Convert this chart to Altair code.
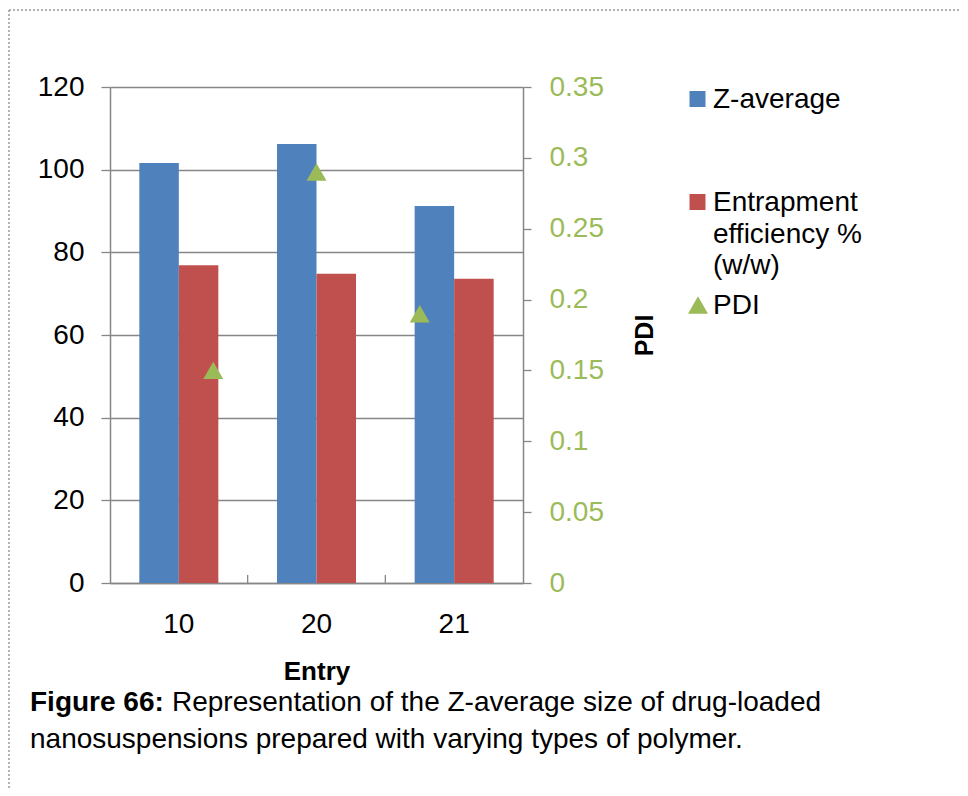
import altair as alt
import pandas as pd

# ---- data ----
entries = ["10", "20", "21"]
z_average = [101.6, 106.2, 91.2]
entrapment = [76.9, 74.8, 73.6]
pdi = [0.15, 0.29, 0.19]
series_names = ["Z-average", "Entrapment efficiency % (w/w)"]
left_ticks = [0, 20, 40, 60, 80, 100, 120]
right_ticks = [0, 0.05, 0.1, 0.15, 0.2, 0.25, 0.3, 0.35]
caption_bold = "Figure 66:"
caption_line1 = "Representation of the Z-average size of drug-loaded"
caption_line2 = "nanosuspensions prepared with varying types of polymer."

# ---- styling ----
BLUE = "#4F81BD"
RED = "#C0504D"
GREEN = "#9BBB59"
GRAY = "#868686"
FONT = "Liberation Sans"
W, H = 413, 496
PAD = {"left": 102, "top": 79, "right": 437, "bottom": 205}
LBL = 28

bars_df = pd.DataFrame({
    "entry": entries * 2,
    "series": [series_names[0]] * len(entries) + [series_names[1]] * len(entries),
    "value": z_average + entrapment,
})
pdi_df = pd.DataFrame({"entry": entries, "pos": [i + 1 for i in range(len(entries))], "pdi": pdi})
sep_df = pd.DataFrame({"boundary": [i for i in range(1, len(entries))]})
one = pd.DataFrame({"k": [0]})

x_scale = alt.Scale(domain=entries, paddingInner=0.426, paddingOuter=0.213)
x_axis = alt.Axis(title="Entry", labelAngle=0, labelFontSize=LBL, labelColor="black",
                  labelPadding=27, ticks=False, domainColor=GRAY, domainWidth=1.5,
                  titleFontSize=26, titleFontWeight="bold", titlePadding=20,
                  titleColor="black", labelFont=FONT, titleFont=FONT)

bars = alt.Chart(bars_df).mark_bar().encode(
    x=alt.X("entry:N", sort=entries, scale=x_scale, axis=x_axis),
    xOffset=alt.XOffset("series:N", sort=series_names,
                        scale=alt.Scale(domain=series_names, paddingInner=0, paddingOuter=0)),
    y=alt.Y("value:Q", scale=alt.Scale(domain=[0, 120], nice=False),
            axis=alt.Axis(values=left_ticks, title=None, grid=True, gridColor=GRAY,
                          gridWidth=1.3, domainColor=GRAY, domainWidth=1.5, tickColor=GRAY,
                          tickSize=9, tickWidth=1.3, labelFontSize=LBL, labelPadding=17,
                          labelColor="black", labelFont=FONT)),
    color=alt.Color("series:N", scale=alt.Scale(domain=series_names, range=[BLUE, RED]),
                    legend=None),
)

# inward category separator ticks on the x axis
seps = alt.Chart(sep_df).mark_rule(color=GRAY, strokeWidth=1.3).encode(
    x=alt.X("boundary:Q", scale=alt.Scale(domain=[0, len(entries)], nice=False, zero=False),
            axis=None),
    y=alt.value(H - 8),
    y2=alt.value(H),
)

tri = alt.Chart(pdi_df).mark_point(shape="triangle-up", filled=True, size=400,
                                   color=GREEN, opacity=1).encode(
    x=alt.X("pos:Q", scale=alt.Scale(domain=[0, len(entries) + 1], nice=False, zero=False),
            axis=None),
    y=alt.Y("pdi:Q", scale=alt.Scale(domain=[0, 0.35], nice=False),
            axis=alt.Axis(orient="right", values=right_ticks, format="~g", title="PDI",
                          titleAngle=270, titleFontSize=25, titleFontWeight="bold",
                          titleColor="black", titlePadding=54, grid=False,
                          domainColor=GRAY, domainWidth=1.5, tickColor=GRAY, tickSize=8,
                          tickWidth=1.3, labelFontSize=LBL, labelColor=GREEN,
                          labelPadding=18, labelFont=FONT, titleFont=FONT)),
)

# ---- legend (drawn by hand to allow the wrapped label) ----
def txt(s, x, y, size=28, weight="normal", align="left"):
    return alt.Chart(one).mark_text(text=s, font=FONT, fontSize=size, fontWeight=weight,
                                    align=align, baseline="middle", color="black").encode(
        x=alt.value(x), y=alt.value(y))

leg_blue = alt.Chart(one).mark_square(size=256, color=BLUE, opacity=1).encode(
    x=alt.value(587.5), y=alt.value(12))
leg_red = alt.Chart(one).mark_square(size=256, color=RED, opacity=1).encode(
    x=alt.value(587.5), y=alt.value(115))
leg_tri = alt.Chart(one).mark_point(shape="triangle-up", filled=True, size=400, color=GREEN,
                                    opacity=1).encode(x=alt.value(588), y=alt.value(218))
legend_layers = [
    leg_blue, leg_red, leg_tri,
    txt(series_names[0], 603, 13),
    txt("Entrapment", 603, 116),
    txt("efficiency %", 603, 148),
    txt("(w/w)", 603, 179),
    txt("PDI", 603, 219),
]

# ---- caption ----
caption_layers = [
    txt(caption_bold, -80, 616, size=28, weight="bold"),
    txt(caption_line1, 62, 616, size=28),
    txt(caption_line2, -80, 653, size=28),
]

# ---- dotted frame ----
frame_top = alt.Chart(one).mark_rule(color="#999999", strokeWidth=1.5, strokeDash=[2, 2]).encode(
    x=alt.value(-101), x2=alt.value(W + PAD["right"]), y=alt.value(-77))
frame_left = alt.Chart(one).mark_rule(color="#999999", strokeWidth=1.5, strokeDash=[2, 2]).encode(
    x=alt.value(-101), y=alt.value(-77), y2=alt.value(H + PAD["bottom"]))

chart = alt.layer(
    bars, seps, tri, *legend_layers, *caption_layers, frame_top, frame_left
).resolve_scale(
    x="independent", y="independent"
).properties(
    width=W, height=H, padding=PAD, autosize=alt.AutoSizeParams(type="none")
).configure_view(stroke=None)

chart.save("out.html", embed_options={"renderer": "svg", "actions": False})
